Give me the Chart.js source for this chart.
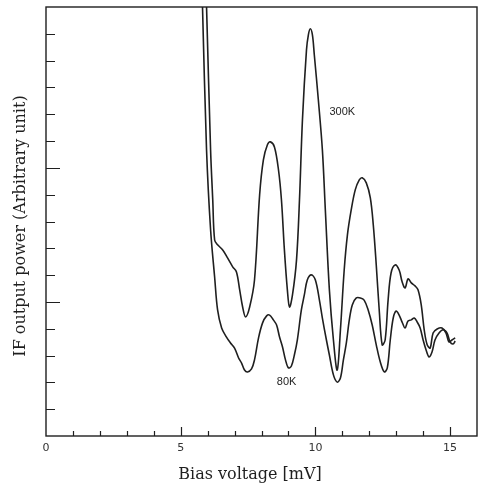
<!DOCTYPE html>
<html>
<head>
<meta charset="utf-8">
<script src="https://cdn.jsdelivr.net/npm/chart.js@4.4.1/dist/chart.umd.min.js"></script>
<style>
  html, body { margin: 0; padding: 0; background: #fff; }
  #wrap { width: 483px; height: 484px; }
</style>
</head>
<body>
<div id="wrap"><canvas id="ifChart" width="483" height="484"></canvas></div>
<script>
// IF output power vs bias voltage (arbitrary units, 0..16)
const bias300 = [5.93, 5.96, 6.11, 6.19, 6.26, 6.37, 6.56, 6.74, 6.93, 7.07, 7.19, 7.30, 7.41, 7.56, 7.74,
  7.93, 8.07, 8.22, 8.33, 8.48, 8.63, 8.74, 8.85, 8.96, 9.04, 9.15, 9.30, 9.41, 9.52, 9.67, 9.74, 9.81,
  9.89, 9.96, 10.11, 10.26, 10.37, 10.52, 10.67, 10.81, 10.93, 11.07, 11.19, 11.33, 11.48, 11.63, 11.74,
  11.89, 12.04, 12.15, 12.26, 12.37, 12.48, 12.59, 12.70, 12.81, 12.96, 13.11, 13.22, 13.33, 13.44, 13.56,
  13.70, 13.81, 13.93, 14.04, 14.15, 14.26, 14.37, 14.52, 14.70, 14.85, 14.96, 15.07, 15.19];
const power300 = [17.0, 16.0, 10.67, 8.81, 7.31, 7.13, 6.94, 6.64, 6.31, 6.12, 5.45, 4.81, 4.44, 4.81, 5.82,
  8.99, 10.3, 10.86, 10.97, 10.78, 9.93, 8.81, 6.94, 5.45, 4.81, 5.26, 6.57, 8.81, 11.79, 14.40, 14.96, 15.19,
  14.96, 14.22, 12.54, 10.67, 8.43, 5.45, 3.58, 2.46, 3.96, 6.19, 7.50, 8.43, 9.18, 9.55, 9.63,
  9.44, 8.88, 7.87, 6.38, 4.70, 3.40, 3.58, 5.07, 6.08, 6.38, 6.19, 5.75, 5.52, 5.86, 5.71,
  5.60, 5.45, 4.89, 3.96, 3.40, 3.28, 3.84, 3.99, 4.03, 3.84, 3.51, 3.58, 3.66];

const bias80 = [5.78, 5.81, 5.96, 6.11, 6.26, 6.37, 6.52, 6.70, 6.85, 7.00, 7.15, 7.26, 7.37, 7.48, 7.63,
  7.74, 7.89, 8.04, 8.19, 8.30, 8.44, 8.56, 8.67, 8.78, 8.89, 9.00, 9.11, 9.22, 9.33, 9.48, 9.59, 9.70,
  9.85, 10.00, 10.15, 10.26, 10.41, 10.52, 10.67, 10.81, 10.93, 11.04, 11.15, 11.26, 11.37, 11.52, 11.67,
  11.81, 11.96, 12.11, 12.26, 12.41, 12.56, 12.67, 12.78, 12.89, 13.00, 13.11, 13.22, 13.33, 13.44, 13.56,
  13.67, 13.78, 13.89, 14.00, 14.11, 14.22, 14.33, 14.44, 14.59, 14.74, 14.89, 15.00, 15.11, 15.19];
const power80 = [17.0, 16.0, 10.67, 7.69, 5.93, 4.70, 4.03, 3.69, 3.47, 3.28, 2.91, 2.72, 2.46, 2.39, 2.50,
  2.84, 3.66, 4.22, 4.48, 4.51, 4.33, 4.14, 3.69, 3.32, 2.84, 2.54, 2.61, 3.02, 3.58, 4.70, 5.26, 5.82,
  6.01, 5.82, 5.07, 4.40, 3.58, 3.02, 2.28, 2.01, 2.16, 2.84, 3.47, 4.33, 4.89, 5.15, 5.15,
  5.07, 4.70, 4.14, 3.40, 2.76, 2.39, 2.54, 3.58, 4.40, 4.66, 4.51, 4.25, 4.03, 4.29, 4.33,
  4.40, 4.25, 4.03, 3.58, 3.21, 2.95, 3.13, 3.58, 3.84, 3.96, 3.84, 3.51, 3.43, 3.54];

const xTickValues = [0, 1, 2, 3, 4, 5, 6, 7, 8, 9, 10, 11, 12, 13, 14, 15, 16];
const xTickLabels = ['0', '5', '10', '15'];
const yTickValues = [0, 1, 2, 3, 4, 5, 6, 7, 8, 9, 10, 11, 12, 13, 14, 15, 16];

// curve tags, in data coordinates
const curveTags = [
  { text: '300K', x: 11.0, y: 12.1 },
  { text: '80K', x: 8.93, y: 2.0 }
];

const INK = '#1f1f1f';
const toPoints = (xs, ys) => xs.map((v, i) => ({ x: v, y: ys[i] }));

// frame, inward ticks, titles and curve tags
const framePlugin = {
  id: 'frame',
  afterDraw(chart) {
    const { ctx, chartArea: a, scales: { x, y } } = chart;
    ctx.save();
    ctx.strokeStyle = INK;
    ctx.lineWidth = 1.4;
    ctx.strokeRect(a.left, a.top, a.right - a.left, a.bottom - a.top);

    ctx.lineWidth = 1.2;
    ctx.beginPath();
    xTickValues.forEach(v => {
      if (v === 0 || v === 16) return;
      const px = Math.round(x.getPixelForValue(v)) + 0.5;
      const len = v % 5 === 0 ? 9 : 5;
      ctx.moveTo(px, a.bottom);
      ctx.lineTo(px, a.bottom - len);
    });
    yTickValues.forEach(v => {
      if (v === 0 || v === 16) return;
      const py = Math.round(y.getPixelForValue(v)) + 0.5;
      const len = (v === 5 || v === 10) ? 14 : 9;
      ctx.moveTo(a.left, py);
      ctx.lineTo(a.left + len, py);
    });
    ctx.stroke();

    // curve tags
    ctx.fillStyle = INK;
    ctx.font = '11px "Liberation Sans", sans-serif';
    ctx.textAlign = 'center';
    ctx.textBaseline = 'middle';
    curveTags.forEach(t => {
      ctx.fillText(t.text, x.getPixelForValue(t.x), y.getPixelForValue(t.y));
    });

    // axis titles
    ctx.font = '16px "DejaVu Serif", serif';
    ctx.fillText('Bias voltage [mV]', 250, 475);
    ctx.translate(21, 226);
    ctx.rotate(-Math.PI / 2);
    ctx.fillText('IF output power (Arbitrary unit)', 0, 0);
    ctx.restore();
  }
};

const ctx = document.getElementById('ifChart').getContext('2d');
new Chart(ctx, {
  type: 'line',
  data: {
    datasets: [
      {
        label: '300K',
        data: toPoints(bias300, power300),
        borderColor: INK,
        borderWidth: 1.6,
        pointRadius: 0,
        tension: 0.35,
        fill: false
      },
      {
        label: '80K',
        data: toPoints(bias80, power80),
        borderColor: INK,
        borderWidth: 1.6,
        pointRadius: 0,
        tension: 0.35,
        fill: false
      }
    ]
  },
  options: {
    responsive: false,
    animation: false,
    events: [],
    layout: { padding: { top: 7, right: 5, left: 0, bottom: 0 } },
    plugins: {
      legend: { display: false },
      tooltip: { enabled: false }
    },
    scales: {
      x: {
        type: 'linear',
        min: 0,
        max: 16,
        grid: { display: false, drawTicks: false },
        border: { display: false },
        afterFit(scale) { scale.height = 48; },
        ticks: {
          stepSize: 5,
          padding: 6,
          color: '#333',
          font: { family: '"DejaVu Sans", sans-serif', size: 11 },
          maxRotation: 0,
          callback: v => xTickLabels.includes(String(v)) ? String(v) : ''
        }
      },
      y: {
        type: 'linear',
        min: 0,
        max: 16,
        grid: { display: false, drawTicks: false },
        border: { display: false },
        ticks: { display: false },
        afterFit(scale) { scale.width = 46; }
      }
    }
  },
  plugins: [framePlugin]
});
</script>
</body>
</html>
